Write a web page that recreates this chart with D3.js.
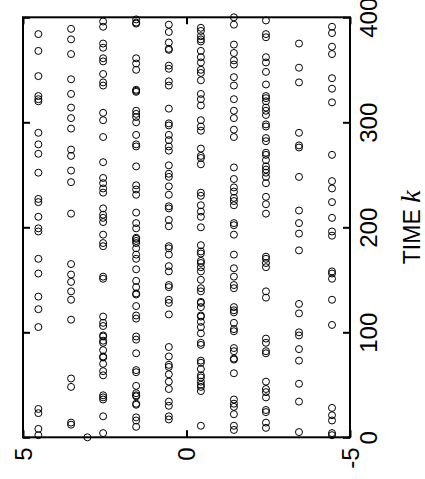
<!DOCTYPE html>
<html>
<head>
<meta charset="utf-8">
<script src="https://cdn.jsdelivr.net/npm/d3@7/dist/d3.min.js"></script>
<style>
  html, body { margin: 0; padding: 0; background: #fff; }
  svg { display: block; }
  text { font-family: "Liberation Sans", Arial, sans-serif; }
</style>
</head>
<body>
<svg id="chart" width="425" height="479"></svg>
<script>
// Quantization levels of the signal and the time steps k at which each level was observed
const levels = [4.53, 3.53, 2.55, 1.54, 0.54, -0.44, -1.45, -2.43, -3.44, -4.45];

const kLevel1 = [384,368,344,325,322,320,290,279,270,252,227,224,210,199,196,170,156,134,122,105,27,23,8,2];
const kLevel2 = [389,379,365,341,327,314,304,294,274,268,254,243,213,165,155,148,139,131,112,56,48,14,12];
const kLevel3 = [396,391,375,371,361,358,346,338,335,309,302,286,262,247,242,237,233,218,212,209,205,193,185,182,153,151,115,109,106,97,96,92,90,83,77,76,70,63,59,40,38,36,20,4];
const kLevel4 = [398,395,394,361,356,350,331,330,329,311,308,305,300,288,279,277,258,240,236,231,214,204,199,190,189,187,185,180,174,170,160,149,143,137,136,125,116,113,96,93,80,64,62,49,42,40,39,32,31,19,16,10];
const kLevel5 = [393,386,376,370,369,354,351,339,335,313,299,297,288,283,277,273,259,251,248,239,231,220,218,207,201,182,180,174,163,158,145,143,131,128,117,86,77,69,67,60,53,46,34,30,20,17];
const kLevel6 = [390,387,382,379,377,368,362,357,350,347,340,327,322,316,302,296,292,275,268,266,260,233,230,221,215,210,200,183,177,175,168,166,162,158,150,142,139,129,128,124,116,115,110,105,99,90,88,73,71,65,59,57,53,50,48,44,11];
const kLevel7 = [400,393,374,366,359,355,343,335,322,311,304,293,286,257,246,238,234,228,225,221,204,202,193,174,161,153,145,142,124,121,119,109,103,101,85,82,75,74,61,36,32,29,22,11,7];
const kLevel8 = [397,384,381,362,357,348,336,325,323,320,314,311,307,298,296,285,282,271,269,264,258,255,252,248,242,229,222,213,172,170,166,162,139,133,94,90,82,80,53,46,43,38,26,24,14,9];
const kLevel9 = [375,352,338,290,278,276,248,216,204,194,178,127,118,100,97,84,73,51,34,5];
const kLevel10 = [391,385,372,365,342,332,319,269,244,237,224,209,196,192,158,156,151,131,107,28,21,16,4,2];

// Initial sample, off the quantization grid
const startK = [0];
const startValue = [3.03];

const valueTicks = [5, 0, -5];
const valueTickLabels = ["5", "0", "-5"];
const timeTicks = [0, 100, 200, 300, 400];

// Build the point list from the arrays above
const kByLevel = [kLevel1, kLevel2, kLevel3, kLevel4, kLevel5, kLevel6, kLevel7, kLevel8, kLevel9, kLevel10];
const points = [];
kByLevel.forEach((ks, i) => ks.forEach(k => points.push({ k: k, v: levels[i] })));
startK.forEach((k, i) => points.push({ k: k, v: startValue[i] }));

const svg = d3.select("#chart");
const frameLeft = 23, frameRight = 350, frameTop = 17.3, frameBottom = 437.3;

// Signal value runs horizontally (5 at left), time runs upward
const x = d3.scaleLinear().domain([5, -5]).range([frameLeft, frameRight]);
const y = d3.scaleLinear().domain([0, 400]).range([frameBottom, frameTop]);

// Markers
svg.append("g")
  .selectAll("circle")
  .data(points)
  .join("circle")
  .attr("cx", d => x(d.v))
  .attr("cy", d => y(d.k))
  .attr("r", 3.5)
  .attr("fill", "none")
  .attr("stroke", "#000")
  .attr("stroke-width", 1);

// Axes with inward ticks
function styleAxis(g) {
  g.select(".domain").remove();
  g.selectAll(".tick line").attr("stroke", "#000").attr("stroke-width", 2);
  g.selectAll("text").attr("fill", "#000").attr("font-size", 24);
}

const bottomAxis = svg.append("g")
  .attr("transform", `translate(0,${frameBottom})`)
  .call(d3.axisBottom(x).tickValues(valueTicks).tickSize(-7)
        .tickFormat((d, i) => valueTickLabels[i]))
  .call(styleAxis);
bottomAxis.selectAll("text")
  .attr("transform", "rotate(-90)")
  .attr("x", -10).attr("y", 0).attr("dy", "0.35em")
  .attr("text-anchor", "end");

svg.append("g")
  .attr("transform", `translate(0,${frameTop})`)
  .call(d3.axisTop(x).tickValues(valueTicks).tickSize(-7).tickFormat(""))
  .call(styleAxis);

svg.append("g")
  .attr("transform", `translate(${frameLeft},0)`)
  .call(d3.axisLeft(y).tickValues(timeTicks).tickSize(-7).tickFormat(""))
  .call(styleAxis);

const rightAxis = svg.append("g")
  .attr("transform", `translate(${frameRight},0)`)
  .call(d3.axisRight(y).tickValues(timeTicks).tickSize(-7).tickFormat(d3.format("d")))
  .call(styleAxis);
rightAxis.selectAll("text")
  .attr("transform", "rotate(-90)")
  .attr("x", 0).attr("y", 19).attr("dy", "0.35em")
  .attr("text-anchor", "middle");

// Frame
svg.append("rect")
  .attr("x", frameLeft).attr("y", frameTop)
  .attr("width", frameRight - frameLeft).attr("height", frameBottom - frameTop)
  .attr("fill", "none").attr("stroke", "#000").attr("stroke-width", 2);

// Time axis title
const title = svg.append("text")
  .attr("transform", `translate(420,${(frameTop + frameBottom) / 2}) rotate(-90)`)
  .attr("text-anchor", "middle")
  .attr("font-size", 23)
  .attr("fill", "#000");
title.append("tspan").text("TIME ");
title.append("tspan")
  .attr("font-family", "'Liberation Serif', 'Times New Roman', serif")
  .attr("font-style", "italic")
  .attr("font-size", 28)
  .text("k");
</script>
</body>
</html>
